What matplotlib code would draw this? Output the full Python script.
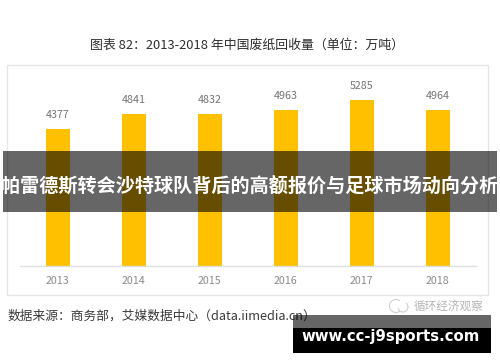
import matplotlib
matplotlib.use("Agg")
import matplotlib.pyplot as plt
from matplotlib.patches import Rectangle, Arc

plt.rcParams['font.family'] = ['Noto Sans CJK SC', 'DejaVu Sans']

years = ['2013', '2014', '2015', '2016', '2017', '2018']
values = [4377, 4841, 4832, 4963, 5285, 4964]
title = '图表 82\uff1a2013-2018 年中国废纸回收量\uff08单位\uff1a万吨\uff09'
source = '数据来源\uff1a商务部\uff0c艾媒数据中心\uff08data.iimedia.cn\uff09'
banner = '帕雷德斯转会沙特球队背后的高额报价与足球市场动向分析'
site = 'www.cc-j9sports.com'
mark = '循环经济观察'

W, H = 500, 362
fig = plt.figure(figsize=(W/100, H/100), dpi=100, facecolor='white')

def fx(x): return x / W
def fy(y): return 1 - y / H

def box(x0, y0, x1, y1, **kw):
    fig.add_artist(Rectangle((fx(x0), fy(y1)), (x1-x0)/W, (y1-y0)/H,
                             transform=fig.transFigure, **kw))

# outer frame
box(6.5, 65, 488, 295, fill=False, ec='#e6e6e6', lw=1.0, zorder=0)

ax = fig.add_axes([fx(19.8), fy(266), (475.8-19.8)/W, (266-65)/H])
ax.patch.set_alpha(0)
ax.bar(range(len(years)), values, width=0.315, color='#FFC000', zorder=2)
ax.set_xlim(-0.5, 5.5)
ax.set_ylim(0, 6400)
for s in ['top', 'left', 'right']:
    ax.spines[s].set_visible(False)
ax.spines['bottom'].set_color('#dedede')
ax.spines['bottom'].set_linewidth(1)
ax.set_yticks([])
ax.set_xticks(range(len(years)))
ax.set_xticklabels(years, fontsize=7.7, color='#8a8a8a')
ax.tick_params(axis='x', length=0, pad=7.5)
for i, v in enumerate(values):
    ax.annotate(str(v), (i, v), xytext=(0, 6.5), textcoords='offset points',
                ha='center', va='bottom', fontsize=7.7, color='#757575')

fig.text(fx(247.5), fy(45.5), title, ha='center', va='center', fontsize=9.3, color='#2e2e2e')
fig.text(fx(7), fy(316), source, ha='left', va='center', fontsize=9.15, color='#3a3a3a', zorder=1)
fig.text(fx(448.5), fy(306.5), mark, ha='center', va='center', fontsize=8.4, color='#b5b5b5')

# faint watermark icon
for cx, cy, r, t1, t2 in [(396, 306, 6.5, 60, 300), (403, 307, 5, 200, 60)]:
    fig.add_artist(Arc((fx(cx), fy(cy)), 2*r/W, 2*r/H, theta1=t1, theta2=t2,
                       transform=fig.transFigure, color='#cfcfcf', lw=0.8))

# overlay banners
box(3, 151, 497, 212, fc=(0, 0, 0, 0.6), ec='none', zorder=5)
fig.text(fx(249.5), fy(186), banner, ha='center', va='center', fontsize=13.75,
         color='white', fontweight='bold', zorder=6)
box(293, 315, 491, 328, fc=(0, 0, 0, 0.6), ec='none', zorder=5)
box(293, 328, 491, 353, fc='black', ec='none', zorder=5)
fig.text(fx(391), fy(336.5), site, ha='center', va='center', fontsize=10.7,
         color='white', fontweight='bold', family='DejaVu Sans', zorder=6)

fig.savefig('out.png', dpi=100)
